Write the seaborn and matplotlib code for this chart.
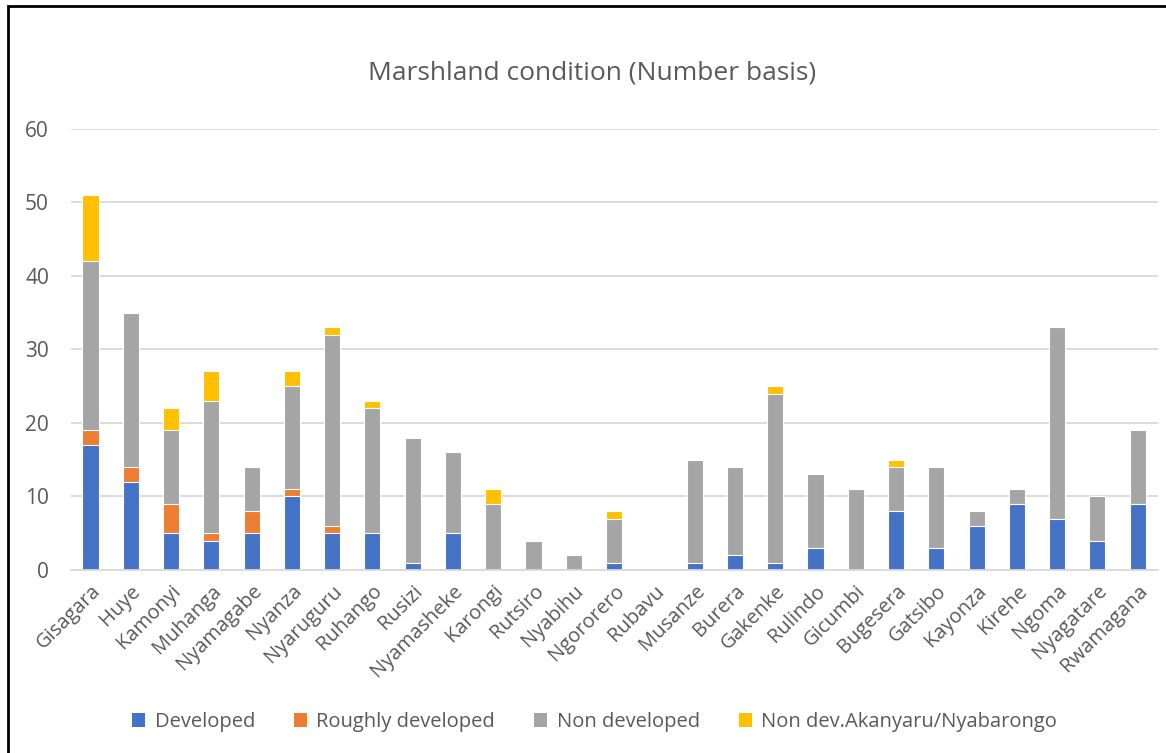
import matplotlib
matplotlib.use("Agg")
import matplotlib.pyplot as plt
import seaborn as sns
import numpy as np
import pandas as pd
from matplotlib.patches import Rectangle, Patch

districts = ["Gisagara", "Huye", "Kamonyi", "Muhanga", "Nyamagabe", "Nyanza", "Nyaruguru",
             "Ruhango", "Rusizi", "Nyamasheke", "Karongi", "Rutsiro", "Nyabihu", "Ngororero",
             "Rubavu", "Musanze", "Burera", "Gakenke", "Rulindo", "Gicumbi", "Bugesera",
             "Gatsibo", "Kayonza", "Kirehe", "Ngoma", "Nyagatare", "Rwamagana"]
developed = [17, 12, 5, 4, 5, 10, 5, 5, 1, 5, 0, 0, 0, 1, 0, 1, 2, 1, 3, 0, 8, 3, 6, 9, 7, 4, 9]
roughly = [2, 2, 4, 1, 3, 1, 1, 0, 0, 0, 0, 0, 0, 0, 0, 0, 0, 0, 0, 0, 0, 0, 0, 0, 0, 0, 0]
non_dev = [23, 21, 10, 18, 6, 14, 26, 17, 17, 11, 9, 4, 2, 6, 0, 14, 12, 23, 10, 11, 6, 11, 2, 2, 26, 6, 10]
akanyaru = [9, 0, 3, 4, 0, 2, 1, 1, 0, 0, 2, 0, 0, 1, 0, 0, 0, 1, 0, 0, 1, 0, 0, 0, 0, 0, 0]

series = ["Developed", "Roughly developed", "Non developed", "Non dev.Akanyaru/Nyabarongo"]
colors = ["#4472C4", "#ED7D31", "#A5A5A5", "#FFC000"]

df = pd.DataFrame({"district": districts, "Developed": developed, "Roughly developed": roughly,
                   "Non developed": non_dev, "Non dev.Akanyaru/Nyabarongo": akanyaru})
cum = df[series].cumsum(axis=1)

sns.set_style("white")
plt.rcParams["font.family"] = ["Open Sans", "DejaVu Sans"]
txt = "#595959"

fig = plt.figure(figsize=(11.66, 7.53), dpi=100)
ax = fig.add_axes([0.061, 0.243, 0.932, 0.586])

# draw cumulative totals back to front so the segments stack
for name, col in reversed(list(zip(series, colors))):
    sns.barplot(x=df["district"], y=cum[name], color=col, width=0.4, saturation=1,
                edgecolor="white", linewidth=0.8, ax=ax)

ax.set_ylim(0, 60)
ax.set_xlim(-0.48, 26.5)
ax.set_yticks(range(0, 61, 10))
ax.yaxis.grid(True, color="#D9D9D9", linewidth=1.3)
ax.set_axisbelow(True)
for s in ["top", "right", "left"]:
    ax.spines[s].set_visible(False)
ax.spines["bottom"].set_color("#D9D9D9")
ax.spines["bottom"].set_linewidth(1.3)
ax.set_xlabel("")
ax.set_ylabel("")
ax.tick_params(axis="x", length=0, labelsize=14.5, colors=txt, pad=8)
ax.tick_params(axis="y", length=0, labelsize=15, colors=txt, pad=16)
plt.setp(ax.get_xticklabels(), rotation=45, ha="right", rotation_mode="anchor")

fig.text(0.508, 0.903, "Marshland condition (Number basis)", ha="center", va="center",
         fontsize=19, color=txt)

handles = [Patch(facecolor=c, edgecolor="none") for c in colors]
fig.legend(handles, series, loc="center", bbox_to_anchor=(0.51, 0.041), ncol=4, frameon=False,
           fontsize=14.5, labelcolor=txt, handlelength=0.65, handleheight=0.65,
           handletextpad=0.45, columnspacing=1.95)

# outer frame: only the top and left edges fall inside the picture
fig.patches.append(Rectangle((0.007, -0.05), 1.2, 1.042, transform=fig.transFigure,
                             fill=False, edgecolor="black", linewidth=2))

fig.savefig("out.png", dpi=100)
